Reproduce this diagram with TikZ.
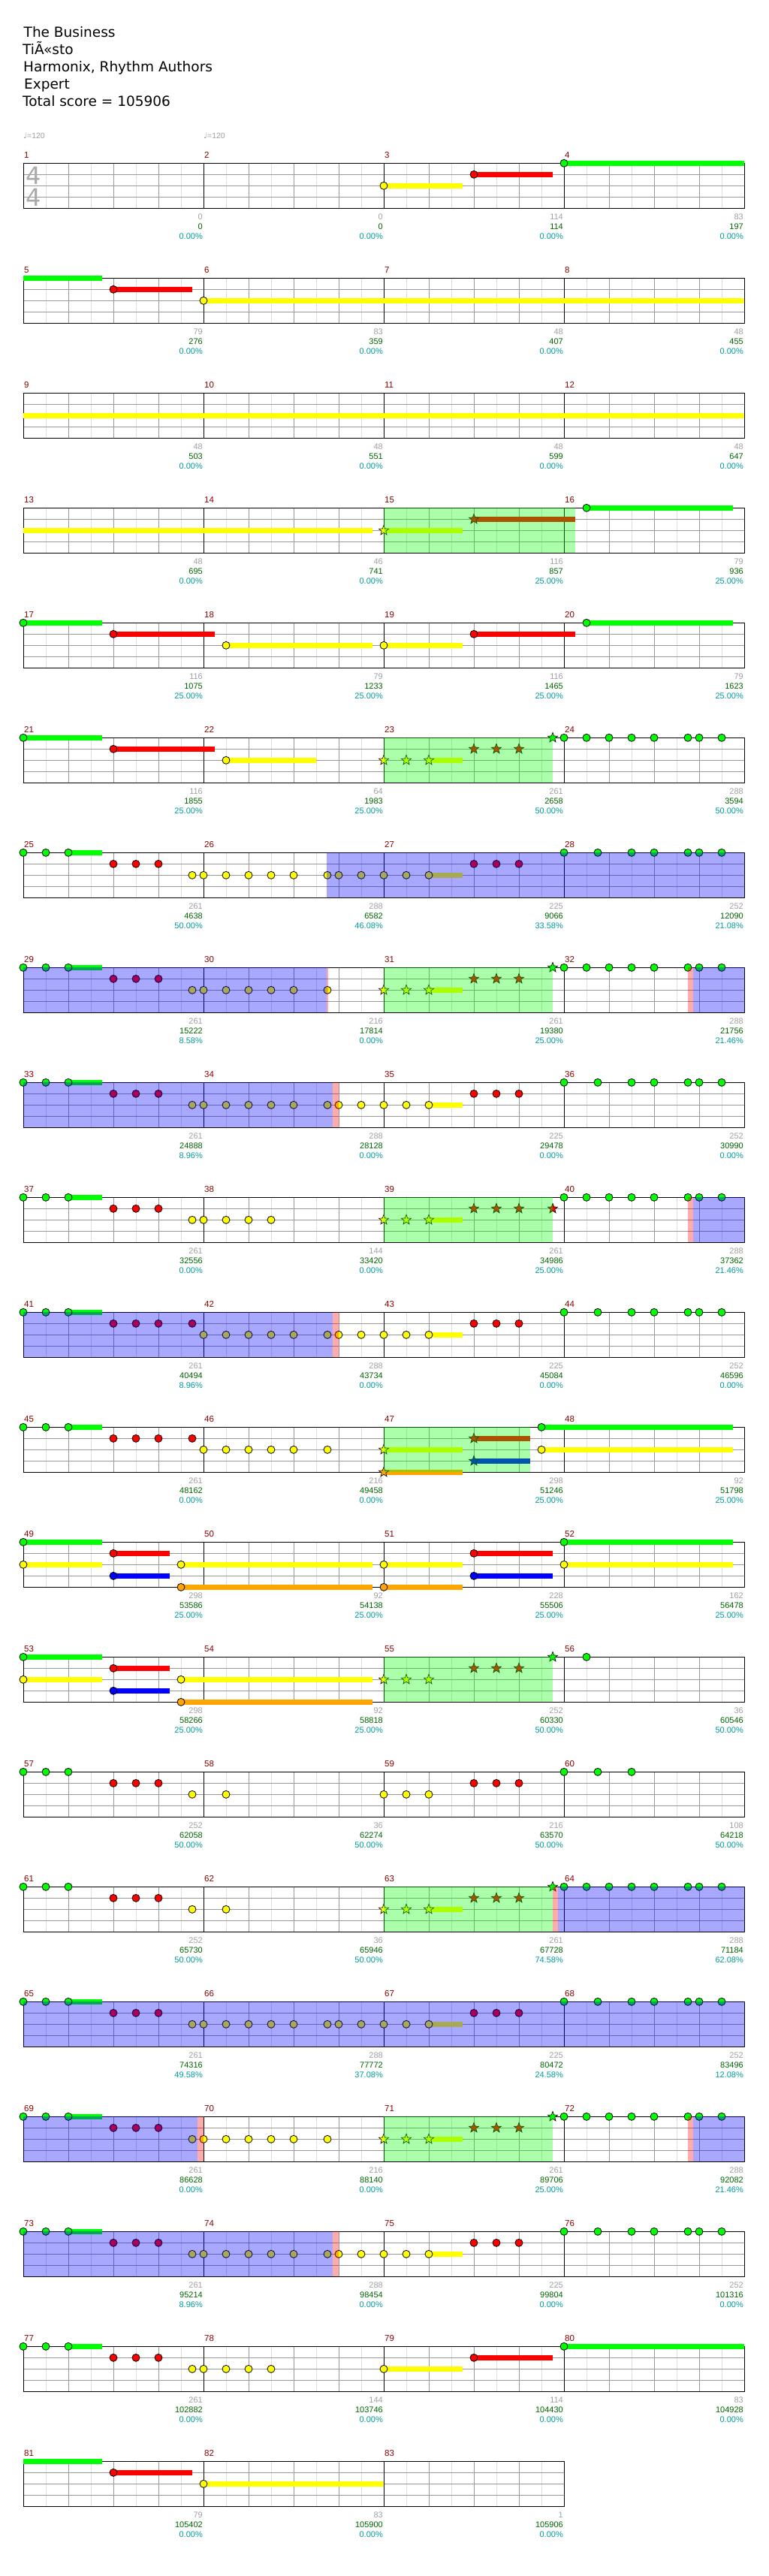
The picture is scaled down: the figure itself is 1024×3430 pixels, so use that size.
\documentclass[tikz,border=0pt]{standalone}
\usepackage{fontspec}
\setmainfont{DejaVu Sans}
\newfontfamily\numfont{Liberation Sans}
\definecolor{lane0}{HTML}{00FF00}
\definecolor{lane1}{HTML}{FF0000}
\definecolor{lane2}{HTML}{FFFF00}
\definecolor{lane3}{HTML}{0000FF}
\definecolor{lane4}{HTML}{FFA500}
\definecolor{gridlight}{HTML}{DDDDDD}
\definecolor{gridmid}{HTML}{999999}
\definecolor{barred}{HTML}{8B0000}
\definecolor{ptsgray}{HTML}{A0A0A0}
\definecolor{totgreen}{HTML}{006400}
\definecolor{pctteal}{HTML}{009999}
\definecolor{siggray}{HTML}{AAAAAA}

\tikzset{
  gemline/.style={draw=black,line width=0.8pt},
  starline/.style={draw=black,line width=0.6pt},
  lightgrid/.style={draw=gridlight,line width=1pt},
  beatgrid/.style={draw=gridmid,line width=1pt},
  barline/.style={draw=black,line width=1pt},
  spzone/.style={fill=lane0,fill opacity=0.33},
  odzone/.style={fill=lane3,fill opacity=0.34},
  endzone/.style={fill=lane1,fill opacity=0.33},
  titletext/.style={font=\fontsize{18.5}{22}\selectfont,anchor=base west,inner sep=0},
  tempotext/.style={font=\numfont\fontsize{10.5}{12}\selectfont,text=ptsgray,anchor=base west,inner sep=0},
  timesig/.style={font=\fontsize{32}{36}\selectfont,text=siggray,anchor=base,inner sep=0},
  barnum/.style={font=\numfont\fontsize{11.5}{12}\selectfont,text=barred,anchor=base west,inner sep=0},
  ptsnum/.style={font=\numfont\fontsize{11}{12}\selectfont,text=ptsgray,anchor=base east,inner sep=0},
  totnum/.style={font=\numfont\fontsize{11}{12}\selectfont,text=totgreen,anchor=base east,inner sep=0},
  pctnum/.style={font=\numfont\fontsize{11}{12}\selectfont,text=pctteal,anchor=base east,inner sep=0}
}

% one row of the chart: #1 = row, #2 = bars in it
\newcommand{\staff}[2]{%
  \pgfmathsetmacro\ytop{217.3+153*#1}%
  \pgfmathsetmacro\xend{31+240*#2}%
  \pgfmathtruncatemacro\nlast{8*#2-1}%
  \pgfmathtruncatemacro\nbeats{4*#2-1}%
  \pgfmathtruncatemacro\nbars{#2-1}%
  \foreach \k in {1,3,...,\nlast}
    \draw[lightgrid] ({31+30*\k},\ytop) -- ++(0,60);
  \foreach \k in {1,...,\nbeats}
    \draw[beatgrid] ({31+60*\k},\ytop) -- ++(0,60);
  \foreach \k in {15,30,45}
    \draw[beatgrid] (31,\ytop+\k) -- (\xend,\ytop+\k);
  \foreach \k in {1,...,\nbars}
    \draw[barline] ({31+240*\k},\ytop) -- ++(0,60);
  \draw[barline] (31,\ytop) rectangle (\xend,\ytop+60);
}
% beat, fret
\newcommand{\gem}[2]{\filldraw[gemline,fill=lane#2] ({31+60*#1},{\ytop+15*#2}) circle[radius=5pt];}
% beat, fret, end beat
\newcommand{\hold}[3]{\fill[lane#2] ({31+60*#1},{\ytop+15*#2-3.4}) rectangle ({31+60*#3},{\ytop+15*#2+3.4});}
\newcommand{\stargem}[2]{\filldraw[starline,fill=lane#2] ({31+60*#1},{\ytop+15*#2})
  +(270:7) -- +(306:2.9) -- +(342:7) -- +(18:2.9) -- +(54:7) -- +(90:2.9)
  -- +(126:7) -- +(162:2.9) -- +(198:7) -- +(234:2.9) -- cycle;}
% style, from beat, to beat
\newcommand{\zone}[3]{\fill[#1] ({31+60*#2},\ytop) rectangle ({31+60*#3},\ytop+60);}

\begin{document}
\begin{tikzpicture}[x=1pt,y=-1pt]
  \useasboundingbox (0,0) rectangle (1024,3430);
  \fill[white] (0,0) rectangle (1024,3430);

  % Header
  \node[titletext] (song) at (31.5,49.3) {The Business};
  \node[titletext] (artist) at (30,72.3) {TiÃ«sto};
  \node[titletext] (charter) at (31,95.7) {Harmonix, Rhythm Authors};
  \node[titletext] (level) at (32,118.3) {Expert};
  \node[titletext] (score) at (30,141.7) {Total score = 105906};
  \node[tempotext] (tempo1) at (31,184.3) {{\rmfamily ♩}=120};
  \node[tempotext] (tempo2) at (271,184.3) {{\rmfamily ♩}=120};

  % bars 1-4
  \staff{0}{4}
  \node[timesig] (sigtop) at (44.5,245) {4};
  \node[timesig] (sigbot) at (44.5,274) {4};
  \foreach \p/\f/\e in {8/2/9.75, 10/1/11.75, 12/0/16} {\hold{\p}{\f}{\e}}
  \foreach \p/\f in {8/2, 10/1, 12/0} {\gem{\p}{\f}}

  % bars 5-8
  \staff{1}{4}
  \foreach \p/\f/\e in {0/0/1.75, 2/1/3.75, 4/2/16} {\hold{\p}{\f}{\e}}
  \foreach \p/\f in {2/1, 4/2} {\gem{\p}{\f}}

  % bars 9-12
  \staff{2}{4}
  \hold{0}{2}{16}

  % bars 13-16
  \staff{3}{4}
  \foreach \p/\f/\e in {0/2/7.75, 8/2/9.75, 10/1/12.25, 12.5/0/15.75} {\hold{\p}{\f}{\e}}
  \foreach \p/\f in {8/2, 10/1} {\stargem{\p}{\f}}
  \gem{12.5}{0}
  \zone{spzone}{8}{12.25}

  % bars 17-20
  \staff{4}{4}
  \foreach \p/\f/\e in {0/0/1.75, 2/1/4.25, 4.5/2/7.75, 8/2/9.75, 10/1/12.25, 12.5/0/15.75} {\hold{\p}{\f}{\e}}
  \foreach \p/\f in {0/0, 2/1, 4.5/2, 8/2, 10/1, 12.5/0} {\gem{\p}{\f}}

  % bars 21-24
  \staff{5}{4}
  \foreach \p/\f/\e in {0/0/1.75, 2/1/4.25, 4.5/2/6.5, 9/2/9.75} {\hold{\p}{\f}{\e}}
  \foreach \p/\f in {0/0, 2/1, 4.5/2, 12/0, 12.5/0, 13/0, 13.5/0, 14/0, 14.75/0, 15/0, 15.5/0} {\gem{\p}{\f}}
  \foreach \p/\f in {8/2, 8.5/2, 9/2, 10/1, 10.5/1, 11/1, 11.75/0} {\stargem{\p}{\f}}
  \zone{spzone}{8}{11.75}

  % bars 25-28
  \staff{6}{4}
  \foreach \p/\f/\e in {1/0/1.75, 9/2/9.75} {\hold{\p}{\f}{\e}}
  \foreach \p/\f in {0/0, 0.5/0, 1/0, 2/1, 2.5/1, 3/1, 3.75/2, 4/2, 4.5/2, 5/2, 5.5/2, 6/2, 6.75/2, 7/2, 7.5/2,
    8/2, 8.5/2, 9/2, 10/1, 10.5/1, 11/1, 12/0, 12.75/0, 13.5/0, 14/0, 14.75/0, 15/0, 15.5/0} {\gem{\p}{\f}}
  \zone{odzone}{6.73}{16}

  % bars 29-32
  \staff{7}{4}
  \foreach \p/\f/\e in {1/0/1.75, 9/2/9.75} {\hold{\p}{\f}{\e}}
  \foreach \p/\f in {0/0, 0.5/0, 1/0, 2/1, 2.5/1, 3/1, 3.75/2, 4/2, 4.5/2, 5/2, 5.5/2, 6/2, 6.75/2,
    12/0, 12.5/0, 13/0, 13.5/0, 14/0, 14.75/0, 15/0, 15.5/0} {\gem{\p}{\f}}
  \foreach \p/\f in {8/2, 8.5/2, 9/2, 10/1, 10.5/1, 11/1, 11.75/0} {\stargem{\p}{\f}}
  \zone{odzone}{0}{6.73}
  \zone{endzone}{6.73}{6.76}
  \zone{spzone}{8}{11.75}
  \zone{endzone}{14.75}{14.86}
  \zone{odzone}{14.86}{16}

  % bars 33-36
  \staff{8}{4}
  \foreach \p/\f/\e in {1/0/1.75, 9/2/9.75} {\hold{\p}{\f}{\e}}
  \foreach \p/\f in {0/0, 0.5/0, 1/0, 2/1, 2.5/1, 3/1, 3.75/2, 4/2, 4.5/2, 5/2, 5.5/2, 6/2, 6.75/2, 7/2, 7.5/2,
    8/2, 8.5/2, 9/2, 10/1, 10.5/1, 11/1, 12/0, 12.75/0, 13.5/0, 14/0, 14.75/0, 15/0, 15.5/0} {\gem{\p}{\f}}
  \zone{odzone}{0}{6.86}
  \zone{endzone}{6.86}{7}

  % bars 37-40
  \staff{9}{4}
  \foreach \p/\f/\e in {1/0/1.75, 9/2/9.75} {\hold{\p}{\f}{\e}}
  \foreach \p/\f in {0/0, 0.5/0, 1/0, 2/1, 2.5/1, 3/1, 3.75/2, 4/2, 4.5/2, 5/2, 5.5/2,
    12/0, 12.5/0, 13/0, 13.5/0, 14/0, 14.75/0, 15/0, 15.5/0} {\gem{\p}{\f}}
  \foreach \p/\f in {8/2, 8.5/2, 9/2, 10/1, 10.5/1, 11/1, 11.75/1} {\stargem{\p}{\f}}
  \zone{spzone}{8}{11.75}
  \zone{endzone}{14.75}{14.86}
  \zone{odzone}{14.86}{16}

  % bars 41-44
  \staff{10}{4}
  \foreach \p/\f/\e in {1/0/1.75, 9/2/9.75} {\hold{\p}{\f}{\e}}
  \foreach \p/\f in {0/0, 0.5/0, 1/0, 2/1, 2.5/1, 3/1, 3.75/1, 4/2, 4.5/2, 5/2, 5.5/2, 6/2, 6.75/2, 7/2, 7.5/2,
    8/2, 8.5/2, 9/2, 10/1, 10.5/1, 11/1, 12/0, 12.75/0, 13.5/0, 14/0, 14.75/0, 15/0, 15.5/0} {\gem{\p}{\f}}
  \zone{odzone}{0}{6.86}
  \zone{endzone}{6.86}{7}

  % bars 45-48
  \staff{11}{4}
  \foreach \p/\f/\e in {1/0/1.75, 8/2/9.75, 8/4/9.75, 10/1/11.25, 10/3/11.25, 11.5/0/15.75, 11.5/2/15.75} {\hold{\p}{\f}{\e}}
  \foreach \p/\f in {0/0, 0.5/0, 1/0, 2/1, 2.5/1, 3/1, 3.75/1, 4/2, 4.5/2, 5/2, 5.5/2, 6/2, 6.75/2, 11.5/0, 11.5/2} {\gem{\p}{\f}}
  \foreach \p/\f in {8/2, 8/4, 10/1, 10/3} {\stargem{\p}{\f}}
  \zone{spzone}{8}{11.25}

  % bars 49-52
  \staff{12}{4}
  \foreach \p/\f/\e in {0/0/1.75, 0/2/1.75, 2/1/3.25, 2/3/3.25, 3.5/2/7.75, 3.5/4/7.75,
    8/2/9.75, 8/4/9.75, 10/1/11.75, 10/3/11.75, 12/0/15.75, 12/2/15.75} {\hold{\p}{\f}{\e}}
  \foreach \p/\f in {0/0, 0/2, 2/1, 2/3, 3.5/2, 3.5/4, 8/2, 8/4, 10/1, 10/3, 12/0, 12/2} {\gem{\p}{\f}}

  % bars 53-56
  \staff{13}{4}
  \foreach \p/\f/\e in {0/0/1.75, 0/2/1.75, 2/1/3.25, 2/3/3.25, 3.5/2/7.75, 3.5/4/7.75} {\hold{\p}{\f}{\e}}
  \foreach \p/\f in {0/0, 0/2, 2/1, 2/3, 3.5/2, 3.5/4, 12.5/0} {\gem{\p}{\f}}
  \foreach \p/\f in {8/2, 8.5/2, 9/2, 10/1, 10.5/1, 11/1, 11.75/0} {\stargem{\p}{\f}}
  \zone{spzone}{8}{11.75}

  % bars 57-60
  \staff{14}{4}
  \foreach \p/\f in {0/0, 0.5/0, 1/0, 2/1, 2.5/1, 3/1, 3.75/2, 4.5/2, 8/2, 8.5/2, 9/2,
    10/1, 10.5/1, 11/1, 12/0, 12.75/0, 13.5/0} {\gem{\p}{\f}}

  % bars 61-64
  \staff{15}{4}
  \hold{9}{2}{9.75}
  \foreach \p/\f in {0/0, 0.5/0, 1/0, 2/1, 2.5/1, 3/1, 3.75/2, 4.5/2,
    12/0, 12.5/0, 13/0, 13.5/0, 14/0, 14.75/0, 15/0, 15.5/0} {\gem{\p}{\f}}
  \foreach \p/\f in {8/2, 8.5/2, 9/2, 10/1, 10.5/1, 11/1, 11.75/0} {\stargem{\p}{\f}}
  \zone{spzone}{8}{11.75}
  \zone{endzone}{11.75}{11.86}
  \zone{odzone}{11.86}{16}

  % bars 65-68
  \staff{16}{4}
  \foreach \p/\f/\e in {1/0/1.75, 9/2/9.75} {\hold{\p}{\f}{\e}}
  \foreach \p/\f in {0/0, 0.5/0, 1/0, 2/1, 2.5/1, 3/1, 3.75/2, 4/2, 4.5/2, 5/2, 5.5/2, 6/2, 6.75/2, 7/2, 7.5/2,
    8/2, 8.5/2, 9/2, 10/1, 10.5/1, 11/1, 12/0, 12.75/0, 13.5/0, 14/0, 14.75/0, 15/0, 15.5/0} {\gem{\p}{\f}}
  \zone{odzone}{0}{16}

  % bars 69-72
  \staff{17}{4}
  \foreach \p/\f/\e in {1/0/1.75, 9/2/9.75} {\hold{\p}{\f}{\e}}
  \foreach \p/\f in {0/0, 0.5/0, 1/0, 2/1, 2.5/1, 3/1, 3.75/2, 4/2, 4.5/2, 5/2, 5.5/2, 6/2, 6.75/2,
    12/0, 12.5/0, 13/0, 13.5/0, 14/0, 14.75/0, 15/0, 15.5/0} {\gem{\p}{\f}}
  \foreach \p/\f in {8/2, 8.5/2, 9/2, 10/1, 10.5/1, 11/1, 11.75/0} {\stargem{\p}{\f}}
  \zone{odzone}{0}{3.86}
  \zone{endzone}{3.86}{4}
  \zone{spzone}{8}{11.75}
  \zone{endzone}{14.75}{14.86}
  \zone{odzone}{14.86}{16}

  % bars 73-76
  \staff{18}{4}
  \foreach \p/\f/\e in {1/0/1.75, 9/2/9.75} {\hold{\p}{\f}{\e}}
  \foreach \p/\f in {0/0, 0.5/0, 1/0, 2/1, 2.5/1, 3/1, 3.75/2, 4/2, 4.5/2, 5/2, 5.5/2, 6/2, 6.75/2, 7/2, 7.5/2,
    8/2, 8.5/2, 9/2, 10/1, 10.5/1, 11/1, 12/0, 12.75/0, 13.5/0, 14/0, 14.75/0, 15/0, 15.5/0} {\gem{\p}{\f}}
  \zone{odzone}{0}{6.86}
  \zone{endzone}{6.86}{7}

  % bars 77-80
  \staff{19}{4}
  \foreach \p/\f/\e in {1/0/1.75, 8/2/9.75, 10/1/11.75, 12/0/16} {\hold{\p}{\f}{\e}}
  \foreach \p/\f in {0/0, 0.5/0, 1/0, 2/1, 2.5/1, 3/1, 3.75/2, 4/2, 4.5/2, 5/2, 5.5/2, 8/2, 10/1, 12/0} {\gem{\p}{\f}}

  % bars 81-83
  \staff{20}{3}
  \foreach \p/\f/\e in {0/0/1.75, 2/1/3.75, 4/2/8} {\hold{\p}{\f}{\e}}
  \foreach \p/\f in {2/1, 4/2} {\gem{\p}{\f}}

  % bar numbers and scores
  \foreach \mm/\pts/\tot/\pct in {
    1/0/0/0.00, 2/0/0/0.00, 3/114/114/0.00, 4/83/197/0.00,
    5/79/276/0.00, 6/83/359/0.00, 7/48/407/0.00, 8/48/455/0.00,
    9/48/503/0.00, 10/48/551/0.00, 11/48/599/0.00, 12/48/647/0.00,
    13/48/695/0.00, 14/46/741/0.00, 15/116/857/25.00, 16/79/936/25.00,
    17/116/1075/25.00, 18/79/1233/25.00, 19/116/1465/25.00, 20/79/1623/25.00,
    21/116/1855/25.00, 22/64/1983/25.00, 23/261/2658/50.00, 24/288/3594/50.00,
    25/261/4638/50.00, 26/288/6582/46.08, 27/225/9066/33.58, 28/252/12090/21.08,
    29/261/15222/8.58, 30/216/17814/0.00, 31/261/19380/25.00, 32/288/21756/21.46,
    33/261/24888/8.96, 34/288/28128/0.00, 35/225/29478/0.00, 36/252/30990/0.00,
    37/261/32556/0.00, 38/144/33420/0.00, 39/261/34986/25.00, 40/288/37362/21.46,
    41/261/40494/8.96, 42/288/43734/0.00, 43/225/45084/0.00, 44/252/46596/0.00,
    45/261/48162/0.00, 46/216/49458/0.00, 47/298/51246/25.00, 48/92/51798/25.00,
    49/298/53586/25.00, 50/92/54138/25.00, 51/228/55506/25.00, 52/162/56478/25.00,
    53/298/58266/25.00, 54/92/58818/25.00, 55/252/60330/50.00, 56/36/60546/50.00,
    57/252/62058/50.00, 58/36/62274/50.00, 59/216/63570/50.00, 60/108/64218/50.00,
    61/252/65730/50.00, 62/36/65946/50.00, 63/261/67728/74.58, 64/288/71184/62.08,
    65/261/74316/49.58, 66/288/77772/37.08, 67/225/80472/24.58, 68/252/83496/12.08,
    69/261/86628/0.00, 70/216/88140/0.00, 71/261/89706/25.00, 72/288/92082/21.46,
    73/261/95214/8.96, 74/288/98454/0.00, 75/225/99804/0.00, 76/252/101316/0.00,
    77/261/102882/0.00, 78/144/103746/0.00, 79/114/104430/0.00, 80/83/104928/0.00,
    81/79/105402/0.00, 82/83/105900/0.00, 83/1/105906/0.00} {
    \pgfmathtruncatemacro\rr{(\mm-1)/4}
    \pgfmathtruncatemacro\cc{\mm-1-4*\rr}
    \pgfmathsetmacro\xl{31+240*\cc}
    \pgfmathsetmacro\yt{217.3+153*\rr}
    \node[barnum] (bar\mm) at (\xl+1,\yt-6.5) {\mm};
    \node[ptsnum] (pts\mm) at (\xl+239,\yt+75.5) {\pts};
    \node[totnum] (tot\mm) at (\xl+239,\yt+88.6) {\tot};
    \node[pctnum] (pct\mm) at (\xl+239,\yt+101.6) {\pct\%};
  }
\end{tikzpicture}
\end{document}
